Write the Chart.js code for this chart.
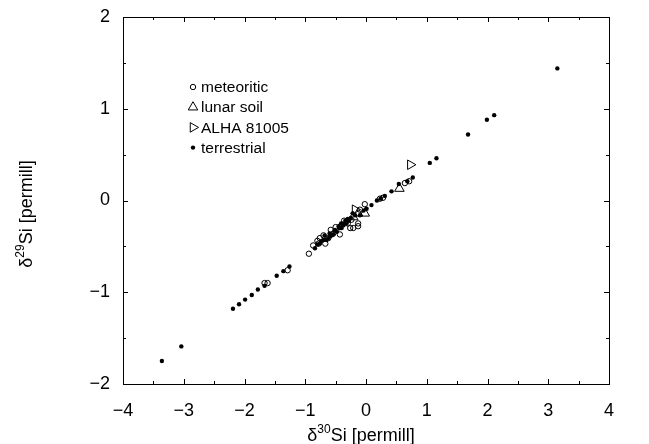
<!DOCTYPE html>
<html>
<head>
<meta charset="UTF-8">
<title>Si isotopes</title>
<script src="https://cdn.jsdelivr.net/npm/chart.js@4/dist/chart.umd.min.js"></script>
<style>
  html, body { margin: 0; padding: 0; background: #fff; }
  #wrap { width: 649px; height: 444px; }
</style>
</head>
<body>
<div id="wrap"><canvas id="siPlot"></canvas></div>
<script>
// values: d30Si (x) and d29Si (y), in permill
const meteoriticX = [-1.67, -1.62, -1.29, -0.94, -0.87, -0.80, -0.78, -0.76, -0.70, -0.67, -0.62, -0.58, -0.54, -0.50, -0.43, -0.43, -0.36, -0.30, -0.26, -0.21, -0.24, -0.13, -0.13, -0.10, -0.02, 0.23, 0.28, 0.64, 0.71];
const meteoriticY = [-0.90, -0.90, -0.76, -0.58, -0.49, -0.44, -0.47, -0.41, -0.38, -0.47, -0.41, -0.32, -0.36, -0.29, -0.29, -0.37, -0.22, -0.25, -0.30, -0.30, -0.21, -0.25, -0.28, -0.10, -0.04, 0.02, 0.03, 0.19, 0.21];
const lunarX = [-0.21, -0.13, -0.02, 0.55];
const lunarY = [-0.18, -0.14, -0.14, 0.13];
const alhaX = [-0.18, 0.73];
const alhaY = [-0.10, 0.39];
const terrestrialX = [-3.36, -3.04, -2.19, -2.09, -1.99, -1.88, -1.78, -1.67, -1.47, -1.36, -1.26, -0.84, -0.80, -0.76, -0.73, -0.70, -0.68, -0.65, -0.62, -0.60, -0.59, -0.56, -0.54, -0.52, -0.51, -0.48, -0.45, -0.43, -0.41, -0.40, -0.37, -0.37, -0.34, -0.32, -0.30, -0.28, -0.25, -0.22, -0.18, -0.10, -0.04, 0.01, 0.09, 0.18, 0.24, 0.31, 0.42, 0.54, 0.68, 0.77, 1.05, 1.16, 1.68, 1.99, 2.11, 3.15];
const terrestrialY = [-1.75, -1.59, -1.18, -1.13, -1.08, -1.03, -0.97, -0.93, -0.82, -0.77, -0.72, -0.52, -0.48, -0.47, -0.44, -0.43, -0.38, -0.43, -0.41, -0.36, -0.39, -0.38, -0.37, -0.33, -0.32, -0.34, -0.28, -0.30, -0.25, -0.30, -0.27, -0.25, -0.22, -0.25, -0.20, -0.22, -0.19, -0.14, -0.16, -0.16, -0.11, -0.09, -0.05, 0.00, 0.02, 0.05, 0.10, 0.18, 0.21, 0.25, 0.41, 0.46, 0.72, 0.88, 0.93, 1.44];

const legendLabels = ['meteoritic', 'lunar soil', 'ALHA 81005', 'terrestrial'];
const xTicks = [-4, -3, -2, -1, 0, 1, 2, 3, 4];
const yTicks = [-2, -1, 0, 1, 2];

const FONT = '"Liberation Sans", Arial, sans-serif';

function pts(xs, ys) {
  return xs.map((x, i) => ({ x: x, y: ys[i] }));
}

function fmt(v) {
  return v < 0 ? '\u2212' + Math.abs(v) : String(v);
}

// frame, inward ticks (major + minor) on all four sides
const framePlugin = {
  id: 'frame',
  afterDatasetsDraw(chart) {
    const ctx = chart.ctx;
    const a = chart.chartArea;
    const xs = chart.scales.x, ys = chart.scales.y;
    ctx.save();
    ctx.strokeStyle = '#000';
    ctx.lineWidth = 1;
    ctx.strokeRect(a.left + 0.5, a.top + 0.5, a.right - a.left, a.bottom - a.top);
    ctx.beginPath();
    for (let v = -4; v <= 4.001; v += 0.5) {
      const len = Number.isInteger(v) ? 5 : 3;
      const px = Math.round(xs.getPixelForValue(v)) + 0.5;
      ctx.moveTo(px, a.bottom); ctx.lineTo(px, a.bottom - len);
      ctx.moveTo(px, a.top); ctx.lineTo(px, a.top + len);
    }
    for (let v = -2; v <= 2.001; v += 0.5) {
      const len = Number.isInteger(v) ? 5 : 3;
      const py = Math.round(ys.getPixelForValue(v)) + 0.5;
      ctx.moveTo(a.left, py); ctx.lineTo(a.left + len, py);
      ctx.moveTo(a.right, py); ctx.lineTo(a.right - len, py);
    }
    ctx.stroke();
    ctx.restore();
  },
  afterDraw(chart) {
    const ctx = chart.ctx;
    ctx.save();
    ctx.fillStyle = '#000';
    ctx.textBaseline = 'alphabetic';

    // axis title with raised mass number
    function title(iso, cx, cy) {
      const big = '18px ' + FONT, small = '12px ' + FONT;
      ctx.font = big;
      const wd = ctx.measureText('\u03b4').width;
      const wr = ctx.measureText('Si [permill]').width;
      ctx.font = small;
      const ws = ctx.measureText(iso).width;
      let x = cx - (wd + ws + wr) / 2;
      ctx.font = big;
      ctx.fillText('\u03b4', x, cy + 7);
      x += wd;
      ctx.font = small;
      ctx.fillText(iso, x, cy - 1);
      x += ws;
      ctx.font = big;
      ctx.fillText('Si [permill]', x, cy + 7);
    }
    title('30', 361, 434);
    ctx.save();
    ctx.translate(25, 214);
    ctx.rotate(-Math.PI / 2);
    title('29', 0, 0);
    ctx.restore();

    // legend inside the frame
    ctx.font = '15.5px ' + FONT;
    ctx.textBaseline = 'middle';
    chart.data.datasets.forEach((ds, i) => {
      const y = 87 + i * 20.2;
      ctx.fillStyle = ds.backgroundColor;
      ctx.strokeStyle = ds.borderColor;
      ctx.lineWidth = ds.borderWidth;
      Chart.helpers.drawPoint(ctx, {
        pointStyle: ds.pointStyle,
        rotation: ds.pointRotation || 0,
        radius: ds.pointRadius,
        borderWidth: ds.borderWidth
      }, 193, y);
      ctx.fillStyle = '#000';
      ctx.fillText(legendLabels[i], 201, y + 1);
    });
    ctx.restore();
  }
};

// legend order: meteoritic, lunar soil, ALHA 81005, terrestrial
const datasets = [
  { label: legendLabels[0], data: pts(meteoriticX, meteoriticY), pointStyle: 'circle', pointRadius: 2.7, borderWidth: 1, borderColor: '#000', backgroundColor: 'rgba(0,0,0,0)' },
  { label: legendLabels[1], data: pts(lunarX, lunarY), pointStyle: 'triangle', pointRadius: 5.5, borderWidth: 1, borderColor: '#000', backgroundColor: 'rgba(0,0,0,0)' },
  { label: legendLabels[2], data: pts(alhaX, alhaY), pointStyle: 'triangle', pointRotation: 90, pointRadius: 5.5, borderWidth: 1, borderColor: '#000', backgroundColor: 'rgba(0,0,0,0)' },
  { label: legendLabels[3], data: pts(terrestrialX, terrestrialY), pointStyle: 'circle', pointRadius: 2.2, borderWidth: 0, borderColor: '#000', backgroundColor: '#000' }
];

new Chart(document.getElementById('siPlot'), {
  type: 'scatter',
  data: { datasets: datasets },
  options: {
    responsive: true,
    maintainAspectRatio: false,
    animation: false,
    devicePixelRatio: 1,
    layout: { padding: { top: 17, right: 40, left: 0, bottom: 0 } },
    plugins: { legend: { display: false }, tooltip: { enabled: false } },
    scales: {
      x: {
        type: 'linear', min: -4, max: 4,
        afterFit(s) { s.height = 60; s.paddingLeft = 0; s.paddingRight = 0; },
        afterBuildTicks(s) { s.ticks = xTicks.map(v => ({ value: v })); },
        grid: { display: false, drawTicks: false },
        border: { display: false },
        ticks: { color: '#000', font: { family: FONT, size: 18 }, padding: 16, maxRotation: 0, callback: v => fmt(v) }
      },
      y: {
        type: 'linear', min: -2, max: 2,
        afterFit(s) { s.width = 123; s.paddingTop = 0; s.paddingBottom = 0; },
        afterBuildTicks(s) { s.ticks = yTicks.map(v => ({ value: v })); },
        grid: { display: false, drawTicks: false },
        border: { display: false },
        ticks: { color: '#000', font: { family: FONT, size: 18 }, padding: 13, callback: v => fmt(v) }
      }
    }
  },
  plugins: [framePlugin]
});
</script>
</body>
</html>
